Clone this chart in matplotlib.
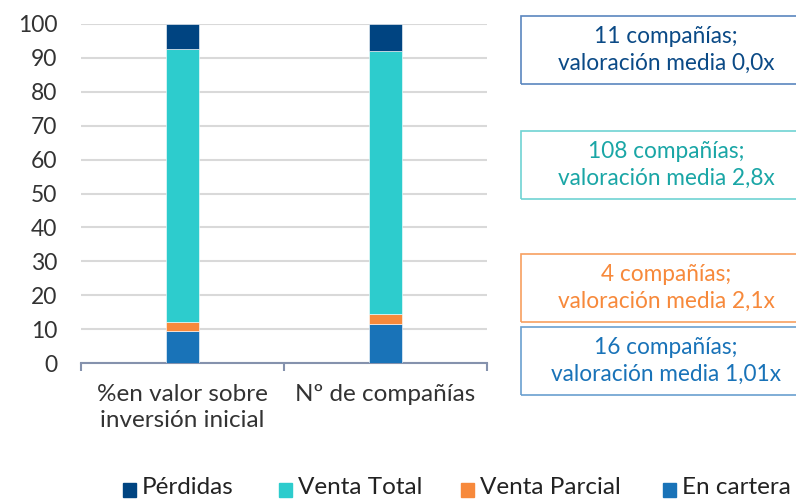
import matplotlib.pyplot as plt
from matplotlib.patches import Rectangle
import numpy as np

categories = ["%en valor sobre\ninversión inicial", "Nº de compañías"]
series_names = ["En cartera", "Venta Parcial", "Venta Total", "Pérdidas"]
en_cartera = [9.3, 11.5]
venta_parcial = [2.7, 2.9]
venta_total = [80.5, 77.7]
perdidas = [7.5, 7.9]
colors = ["#1973b8", "#f7893b", "#2dcccd", "#004481"]

box_texts = [
    "11 compañías;\nvaloración media 0,0x",
    "108 compañías;\nvaloración media 2,8x",
    "4 compañías;\nvaloración media 2,1x",
    "16 compañías;\nvaloración media 1,01x",
]
box_text_colors = ["#0b4a86", "#1aa6a6", "#f7893b", "#1973b8"]
box_edge_colors = ["#5a86bf", "#6fd3d3", "#f7a060", "#6a9fd0"]

plt.rcParams["font.family"] = ["Lato", "DejaVu Sans"]

fig = plt.figure(figsize=(7.96, 4.99), dpi=100)
W, H = 796, 499
ax = fig.add_axes([81 / W, 1 - 363 / H, 406 / W, 339 / H])

x = np.arange(len(categories))
bottom = np.zeros(len(categories))
handles = {}
for name, vals, col in zip(series_names, [en_cartera, venta_parcial, venta_total, perdidas], colors):
    ax.bar(x, vals, width=0.165, bottom=bottom, color=col, edgecolor="white", linewidth=0.4, zorder=3)
    handles[name] = col
    bottom += np.array(vals)

ax.set_xlim(-0.5, 1.5)
ax.set_ylim(0, 100)
ax.set_yticks(range(0, 101, 10))
ax.yaxis.grid(True, color="#d9d9d9", linewidth=1.5, zorder=0)
ax.tick_params(axis="y", length=0, labelsize=16.5, labelcolor="#333333", pad=17)
for s in ["top", "right", "left"]:
    ax.spines[s].set_visible(False)
ax.spines["bottom"].set_color("#8592ad")
ax.spines["bottom"].set_linewidth(1.5)
ax.set_xticks([-0.5, 0.5, 1.5])
ax.set_xticklabels([])
ax.tick_params(axis="x", length=6, width=1.5, color="#8592ad")
ax.set_xticks(x, minor=True)
ax.set_xticklabels(categories, minor=True, fontsize=17.5, color="#333333", linespacing=1.3)
ax.tick_params(axis="x", which="minor", length=0, pad=15)

# text boxes on the right
box_tops = [16, 131, 254, 327]
for top, txt, tc, ec in zip(box_tops, box_texts, box_text_colors, box_edge_colors):
    fig.patches.append(Rectangle((521 / W, 1 - (top + 68) / H), 290 / W, 68 / H,
                                 transform=fig.transFigure, fill=False, edgecolor=ec, linewidth=1.2))
    fig.text(666 / W, 1 - (top + 34) / H, txt, ha="center", va="center", fontsize=16.3,
             color=tc, linespacing=1.35)

# legend
order = ["Pérdidas", "Venta Total", "Venta Parcial", "En cartera"]
leg_x = [123, 279, 461, 663]
for xp, name in zip(leg_x, order):
    fig.patches.append(Rectangle((xp / W, 1 - 497 / H), 13 / W, 14 / H,
                                 transform=fig.transFigure, color=handles[name]))
    fig.text((xp + 19) / W, 1 - 488 / H, name, ha="left", va="center", fontsize=17.5, color="#222222")

fig.savefig("out.png", dpi=100)
